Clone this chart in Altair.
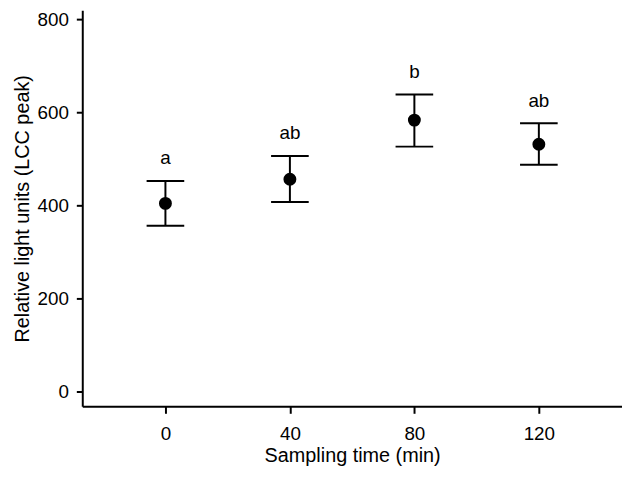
import altair as alt
import pandas as pd

times = ["0", "40", "80", "120"]
means = [404, 456, 583, 531]
lower = [356, 407, 526, 487]
upper = [452, 506, 638, 576]
letters = ["a", "ab", "b", "ab"]

df = pd.DataFrame({"time": times, "mean": means, "lower": lower, "upper": upper, "letter": letters})

FONT = "Liberation Sans"

x_enc = alt.X(
    "time:O",
    sort=times,
    scale=alt.Scale(type="point", padding=0.668),
    axis=alt.Axis(
        title="Sampling time (min)",
        labelAngle=0,
        tickSize=7,
        labelPadding=11,
        titlePadding=3,
    ),
)
y_scale = alt.Scale(domain=[-32, 819], nice=False, zero=False)
y_axis = alt.Axis(
    title="Relative light units (LCC peak)",
    values=[0, 200, 400, 600, 800],
    tickSize=6,
    labelPadding=8,
    titlePadding=5,
)

base = alt.Chart(df)

rules = base.mark_rule(color="black", strokeWidth=2).encode(
    x=x_enc,
    y=alt.Y("lower:Q", scale=y_scale, axis=y_axis),
    y2="upper:Q",
)
cap_lo = base.mark_tick(color="black", size=38, thickness=2, opacity=1).encode(
    x=x_enc, y=alt.Y("lower:Q", scale=y_scale)
)
cap_hi = base.mark_tick(color="black", size=38, thickness=2, opacity=1).encode(
    x=x_enc, y=alt.Y("upper:Q", scale=y_scale)
)
points = base.mark_circle(color="black", size=170, opacity=1).encode(
    x=x_enc, y=alt.Y("mean:Q", scale=y_scale)
)
labels = base.mark_text(font=FONT, fontSize=19, color="black", dy=-17, baseline="alphabetic").encode(
    x=x_enc, y=alt.Y("upper:Q", scale=y_scale), text="letter:N"
)

chart = (
    alt.layer(rules, cap_lo, cap_hi, points, labels)
    .properties(
        width=545,
        height=400,
        autosize=alt.AutoSizeParams(type="none"),
        padding={"left": 75, "top": 0, "right": 0, "bottom": 61},
    )
    .configure_view(stroke=None)
    .configure_axis(
        grid=False,
        domainColor="black",
        domainWidth=2,
        tickColor="black",
        tickWidth=2,
        labelFont=FONT,
        labelFontSize=19,
        labelColor="black",
        titleFont=FONT,
        titleFontSize=20,
        titleFontWeight="normal",
        titleColor="black",
    )
)

chart.save("out.html", embed_options={"renderer": "svg", "actions": False})
